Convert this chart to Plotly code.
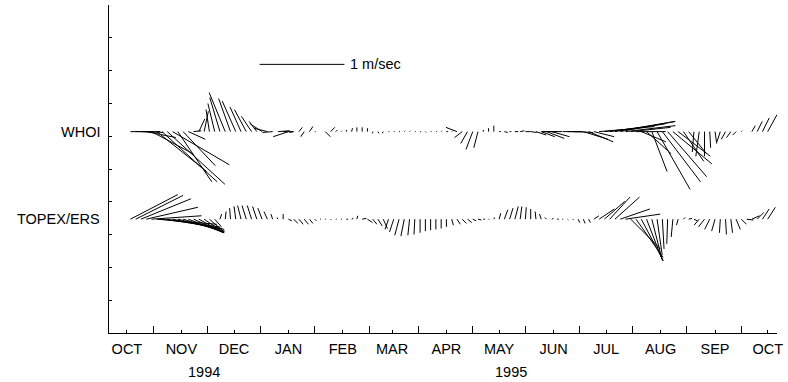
import plotly.graph_objects as go
from datetime import date

# ---- data -------------------------------------------------------------
# sample times: days since 1994-10-01 (every 3 days)
days = list(range(2, 366, 3))

# WHOI velocity components (cm/s)
whoi_u = [24, 29, 26, 35, 49, 59, 65, 68, 67, 40, 38, 20, 9, 7, 5, -4, -8, -12, -19, -14,
          -16, -13, -14, -12, -9, -14, -16, -12, 14, 12, -18, -5, 4, -4, 4, 1, 0, 6, 5, 2,
          1, 0, 1, 0, 0, 0, 0, 1, -1, 1, 1, 1, 1, 1, 1, 1, 1, 1, 1, 1,
          2, 1, -13, -9, -8, -8, -5, 0, 0, 0, 2, 4, 2, 4, 5, 6, 7, 12, 16, 21,
          21, -18, -24, 18, 24, -18, 29, 29, 24, 47, 59, 65, 71, 65, 59, 47, 35, 29, 29, 18,
          39, 45, 46, 46, 38, 24, 21, -2, -4, 0, 1, 2, -4, -5, -5, -4, 1, 0, 4, 6,
          8, 11]
whoi_v = [0, 0, -1, -7, -26, -47, -59, -62, -39, -59, -40, -9, 1, 15, 24, 26, 33, 40, 46, 39,
          36, 29, 26, 18, 12, 9, 4, -1, 1, 0, -6, -1, 5, -6, 6, 0, 0, -6, 5, 2,
          1, 2, 4, 5, 5, 4, -2, -2, -2, 0, 0, 0, 1, 1, 0, 0, -1, 0, 0, 1,
          0, 1, 5, -7, -14, -21, -19, 2, 4, 7, 0, -1, 0, 0, 1, 0, -1, -4, -6, -8,
          -6, 0, 0, 0, -1, 0, -9, -12, -6, 4, 6, 9, 12, 12, 7, 5, 0, -12, -26, -47,
          -68, -59, -53, -38, -29, -35, -26, -24, -29, -29, -19, -14, -12, -9, -7, -4, 1, 0, 7, 12,
          16, 20]

# TOPEX/ERS velocity components (cm/s)
topex_u = [56, 56, 59, 61, 59, 71, 68, 65, 61, 55, 49, 42, 36, 29, 22, 16, 8, 2, 1, -1,
           -2, -4, -5, -5, -5, -5, -4, -2, -1, 0, 4, 5, 5, 5, 4, 2, 1, 1, 1, 1,
           1, 2, 2, 1, 5, 6, 5, 5, 5, -4, -5, -5, -4, -2, -1, 0, 0, 0, 0, 0,
           0, 2, 4, 5, 5, 4, 4, 2, 1, 1, 2, 4, 4, 4, 2, 1, 0, -1, -2, -2,
           2, 2, 1, 1, 1, 2, 2, 2, 6, 18, 24, 24, 29, 35, 41, 35, 32, 26, 19, 12,
           6, 2, -1, -2, -2, 2, 4, 4, -6, -7, -6, -4, -1, 1, 2, 5, 6, 8, 9, 8,
           8, 9]
topex_v = [29, 28, 24, 14, 4, -6, -9, -11, -12, -14, -15, -16, -16, -16, -15, -14, -9, 6, 9, 13,
           15, 16, 16, 16, 15, 13, 9, 6, 2, 6, -2, -5, -6, -6, -5, -2, 0, 0, -1, 0,
           0, 0, 1, 4, 1, -4, -6, -8, -11, -12, -15, -19, -20, -19, -18, -16, -14, -13, -12, -11,
           -9, -7, -6, -5, -4, -2, -1, 0, 0, 2, 7, 11, 13, 15, 15, 14, 12, 9, 6, 2,
           1, 0, 0, -1, -1, -4, -5, -4, 4, 12, 21, 26, 26, 12, 6, -35, -45, -49, -49, -47,
           -42, -35, -29, -21, -7, 2, 1, -2, -7, -9, -12, -14, -16, -18, -16, -12, -6, -1, 4, 8,
           12, 14]

month_labels = ["OCT", "NOV", "DEC", "JAN", "FEB", "MAR", "APR", "MAY", "JUN",
                "JUL", "AUG", "SEP", "OCT"]
year_labels = ["1994", "1995"]
series_names = ["WHOI", "TOPEX/ERS"]

# ---- geometry ---------------------------------------------------------
W, H = 788, 382
ML, MR, MT, MB = 109, 9, 5, 49
plot_w = W - ML - MR
plot_h = H - MT - MB
x0, x1 = -10.2, 370.3          # day range
y0, y1 = 0.0, 10.0             # vertical axis units
px_per_day = plot_w / (x1 - x0)
px_per_yunit = plot_h / (y1 - y0)
px_per_ms = 85.0               # 1 m/s arrow length in pixels
day_per_ms = px_per_ms / px_per_day
yunit_per_ms = px_per_ms / px_per_yunit

base_whoi = 6.14
base_topex = 3.47


def sticks(t, u, v, base):
    xs, ys = [], []
    for ti, ui, vi in zip(t, u, v):
        xs += [ti, ti + ui / 100.0 * day_per_ms, None]
        ys += [base, base + vi / 100.0 * yunit_per_ms, None]
    return xs, ys


month_starts = [(date(1994 + (9 + k) // 12, (9 + k) % 12 + 1, 1) - date(1994, 10, 1)).days
                for k in range(13)]
mid_months = [m + 15 for m in month_starts[:-1]]

fig = go.Figure()
for name, u, v, b in [(series_names[0], whoi_u, whoi_v, base_whoi),
                      (series_names[1], topex_u, topex_v, base_topex)]:
    xs, ys = sticks(days, u, v, b)
    fig.add_trace(go.Scatter(x=xs, y=ys, mode="lines", name=name,
                             line=dict(color="black", width=1), showlegend=False,
                             hoverinfo="skip"))

# scale arrow: 1 m/s
sb_day, sb_y = 75.6, 8.19
fig.add_trace(go.Scatter(x=[sb_day, sb_day + 1.0 * day_per_ms], y=[sb_y, sb_y],
                         mode="lines", line=dict(color="black", width=1),
                         showlegend=False, hoverinfo="skip"))
# invisible trace to activate xaxis2
fig.add_trace(go.Scatter(x=[x0], y=[y0], xaxis="x2", mode="markers",
                         marker=dict(opacity=0), showlegend=False, hoverinfo="skip"))

font = dict(family="Liberation Sans, Arial, sans-serif", size=14.5, color="black")

fig.add_annotation(x=sb_day + 1.0 * day_per_ms, y=sb_y, xref="x", yref="y",
                   text="1 m/sec", showarrow=False, xanchor="left", xshift=4, font=font)
fig.add_annotation(x=0, y=base_whoi, xref="paper", yref="y", text=series_names[0],
                   showarrow=False, xanchor="right", xshift=-7, font=font)
fig.add_annotation(x=0, y=base_topex, xref="paper", yref="y", text=series_names[1],
                   showarrow=False, xanchor="right", xshift=-7, font=font)
for lbl, d in zip(year_labels, [43.8, 219.0]):
    fig.add_annotation(x=d, y=0, xref="x", yref="paper", text=lbl, showarrow=False,
                       yanchor="middle", yshift=-38.7, font=font)

fig.update_layout(
    width=W, height=H,
    margin=dict(l=ML, r=MR, t=MT, b=MB, pad=0),
    paper_bgcolor="white", plot_bgcolor="white",
    font=font,
    xaxis=dict(range=[x0, x1], tickvals=mid_months, ticktext=[""] * len(mid_months),
               ticks="inside", ticklen=7, tickcolor="black", tickwidth=1,
               showline=True, linecolor="black", linewidth=1, showgrid=False,
               zeroline=False, mirror=False),
    xaxis2=dict(range=[x0, x1], overlaying="x", side="bottom", anchor="y",
                tickvals=month_starts, ticktext=month_labels,
                ticks="inside", ticklen=3, tickcolor="black", tickwidth=1,
                ticklabelstandoff=5,
                showline=False, showgrid=False, zeroline=False, tickfont=font),
    yaxis=dict(range=[y0, y1], tickvals=list(range(0, 11)), ticktext=[""] * 11,
               ticks="inside", ticklen=3, tickcolor="black", tickwidth=1,
               showline=True, linecolor="black", linewidth=1, showgrid=False,
               zeroline=False),
)

fig.write_html("out.html", config={"displayModeBar": False},
               post_script="document.body.style.margin='0px';document.body.style.overflow='hidden';")
